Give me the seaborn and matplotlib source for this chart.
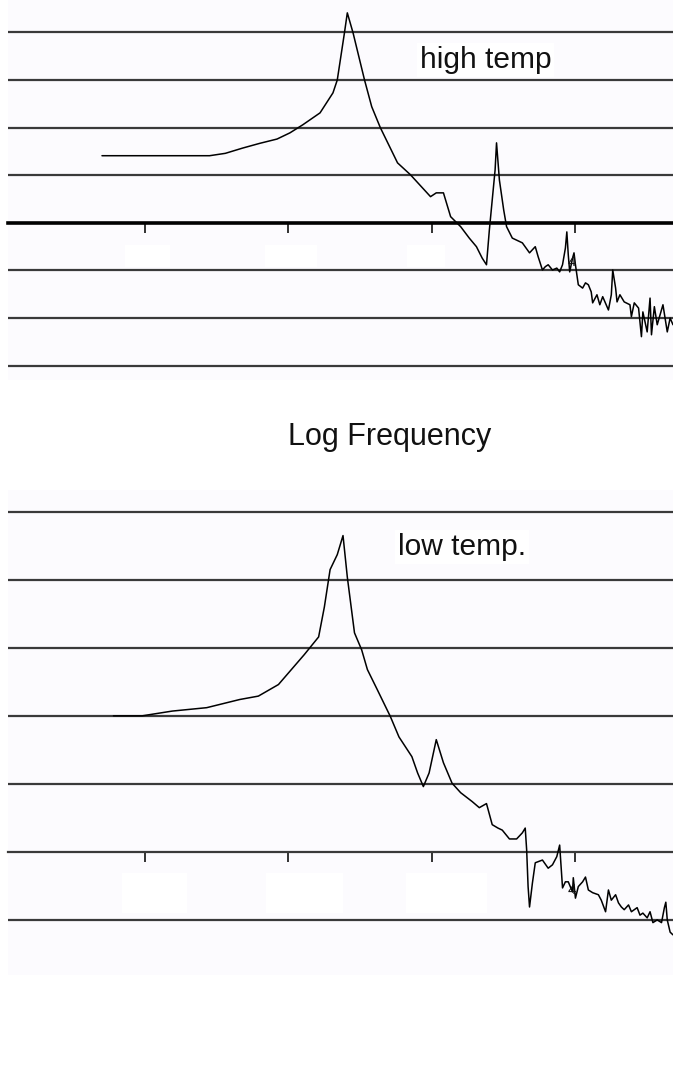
import matplotlib
matplotlib.use("Agg")
import matplotlib.pyplot as plt
import seaborn as sns
import pandas as pd
from matplotlib.patches import Rectangle

# ---------------- data (log frequency vs log amplitude, in grid units) ----------------
high_x = [0.70, 1.03, 1.45, 1.56, 1.68, 1.80, 1.92, 2.01, 2.10, 2.22, 2.31, 2.34, 2.39, 2.41,
          2.45, 2.53, 2.58, 2.64, 2.76, 2.85, 2.99, 3.03, 3.08, 3.13, 3.20, 3.26, 3.31, 3.35,
          3.38, 3.40, 3.44, 3.45, 3.47, 3.50, 3.52, 3.56, 3.63, 3.68, 3.72, 3.74, 3.77, 3.79,
          3.81, 3.84, 3.87, 3.89, 3.91, 3.93, 3.94, 3.95, 3.96, 3.98, 3.99, 4.00, 4.02, 4.05,
          4.07, 4.09, 4.11, 4.12, 4.15, 4.17, 4.19, 4.23, 4.25, 4.26, 4.28, 4.29, 4.31, 4.34,
          4.38, 4.39, 4.41, 4.44, 4.46, 4.47, 4.50, 4.52, 4.53, 4.55, 4.57, 4.59, 4.61, 4.64,
          4.66, 4.68]
high_y = [1.41, 1.41, 1.41, 1.46, 1.57, 1.67, 1.76, 1.89, 2.06, 2.31, 2.73, 3.00, 3.99, 4.41,
          3.99, 3.00, 2.44, 2.00, 1.26, 1.01, 0.55, 0.63, 0.63, 0.13, -0.08, -0.32, -0.50, -0.74,
          -0.88, -0.15, 1.11, 1.68, 0.90, 0.27, -0.08, -0.32, -0.42, -0.63, -0.50, -0.71, -0.99, -0.92,
          -0.88, -0.99, -0.95, -1.03, -0.88, -0.53, -0.19, -0.67, -1.03, -0.74, -0.63, -0.88, -1.30, -1.37,
          -1.26, -1.30, -1.45, -1.68, -1.51, -1.72, -1.55, -1.83, -1.51, -0.99, -1.37, -1.66, -1.51, -1.66,
          -1.72, -1.97, -1.68, -1.79, -2.39, -1.87, -2.29, -1.58, -2.35, -1.76, -2.14, -1.93, -1.72, -2.29,
          -2.00, -2.14]

low_x = [0.78, 0.98, 1.19, 1.43, 1.66, 1.79, 1.93, 2.02, 2.11, 2.21, 2.25, 2.29, 2.34, 2.38,
         2.41, 2.46, 2.51, 2.55, 2.62, 2.71, 2.77, 2.86, 2.90, 2.94, 2.98, 3.03, 3.08, 3.14,
         3.20, 3.28, 3.33, 3.38, 3.42, 3.46, 3.49, 3.54, 3.59, 3.63, 3.65, 3.66, 3.67, 3.68,
         3.70, 3.72, 3.77, 3.81, 3.84, 3.87, 3.89, 3.91, 3.93, 3.95, 3.98, 3.985, 4.00, 4.02,
         4.05, 4.07, 4.09, 4.12, 4.16, 4.18, 4.21, 4.23, 4.25, 4.28, 4.30, 4.32, 4.34, 4.37,
         4.39, 4.43, 4.45, 4.47, 4.50, 4.52, 4.54, 4.57, 4.60, 4.62, 4.63, 4.64, 4.66, 4.68]
low_y = [2.00, 2.00, 2.07, 2.12, 2.24, 2.29, 2.46, 2.68, 2.90, 3.16, 3.60, 4.15, 4.37, 4.65,
         4.04, 3.22, 2.97, 2.68, 2.38, 1.99, 1.69, 1.40, 1.16, 0.96, 1.16, 1.65, 1.31, 1.01,
         0.87, 0.74, 0.65, 0.71, 0.40, 0.35, 0.32, 0.19, 0.19, 0.28, 0.35, 0.03, -0.51, -0.81,
         -0.46, -0.16, -0.12, -0.24, -0.19, -0.07, 0.10, -0.53, -0.44, -0.44, -0.59, -0.38, -0.68, -0.51,
         -0.44, -0.37, -0.56, -0.60, -0.63, -0.71, -0.88, -0.56, -0.71, -0.63, -0.75, -0.81, -0.85, -0.78,
         -0.88, -0.82, -0.93, -0.90, -0.97, -0.88, -1.04, -1.00, -1.04, -0.82, -0.74, -1.00, -1.18, -1.22]

x_ticks = [1, 2, 3, 4]
high_grid = [-3, -2, -1, 0, 1, 2, 3, 4]
low_grid = [-1, 0, 1, 2, 3, 4, 5]
title_high = "high temp"
title_low = "low temp."
x_label = "Log Frequency"
tick_label = "4"

# ---------------- figure ----------------
sns.set_theme(style="white")
plt.rcParams["font.family"] = ["Liberation Sans", "DejaVu Sans"]

W, H = 673, 1074
fig = plt.figure(figsize=(W / 100, H / 100), dpi=100, facecolor="white")

def px_axes(l, t, r, b):
    return fig.add_axes([l / W, 1 - b / H, (r - l) / W, (b - t) / H])

ax1 = px_axes(8, 0, 673, 380)
ax2 = px_axes(8, 490, 673, 975)

df_high = pd.DataFrame({"logf": high_x, "amp": high_y})
df_low = pd.DataFrame({"logf": low_x, "amp": low_y})

for ax, df, grid, ylim, axis_lw in [
    (ax1, df_high, high_grid, (-3.30, 4.68), 2.6),
    (ax2, df_low, low_grid, (-1.81, 5.32), 1.6),
]:
    ax.set_facecolor("#fcfbfe")
    ax.set_xlim(0.045, 4.68)
    ax.set_ylim(*ylim)
    for y in grid:
        if y == 0:
            continue
        ax.axhline(y, color="#3a3a3a", lw=1.6, zorder=1)
    for s in ["top", "right", "left"]:
        ax.spines[s].set_visible(False)
    ax.spines["bottom"].set_position(("data", 0))
    ax.spines["bottom"].set_color("black" if axis_lw > 2 else "#3a3a3a")
    ax.spines["bottom"].set_linewidth(axis_lw)
    ax.set_xticks(x_ticks)
    ax.set_xticklabels([])
    ax.set_yticks([])
    ax.tick_params(axis="x", direction="out", length=7, width=1.3, color="#222222",
                   bottom=True, labelbottom=False)
    sns.lineplot(data=df, x="logf", y="amp", ax=ax, color="black", lw=1.1,
                 sort=False, estimator=None, zorder=3)
    ax.set_xlabel("")
    ax.set_ylabel("")

# erased tick-label boxes (plain white patches)
for (l, t, r, b) in [(125, 245, 170, 267), (265, 245, 317, 267), (407, 245, 445, 267),
                     (122, 873, 187, 913), (266, 873, 343, 913), (406, 873, 487, 913)]:
    fig.patches.append(Rectangle((l / W, 1 - b / H), (r - l) / W, (b - t) / H,
                                 transform=fig.transFigure, facecolor="white",
                                 edgecolor="none", zorder=0.5))

# texts
fig.text(420 / W, 1 - 68 / H, title_high, fontsize=21.5, color="#111111",
         ha="left", va="baseline",
         bbox=dict(facecolor="white", edgecolor="none", pad=2))
fig.text(398 / W, 1 - 555 / H, title_low, fontsize=21.5, color="#111111",
         ha="left", va="baseline",
         bbox=dict(facecolor="white", edgecolor="none", pad=2))
fig.text(390 / W, 1 - 445 / H, x_label, fontsize=22, color="#111111",
         ha="center", va="baseline")
fig.text(572 / W, 1 - 262 / H, tick_label, fontsize=11, color="#111111",
         ha="center", va="center")
fig.text(572 / W, 1 - 890 / H, tick_label, fontsize=11, color="#111111",
         ha="center", va="center")

fig.savefig("out.png", dpi=100, facecolor="white")
